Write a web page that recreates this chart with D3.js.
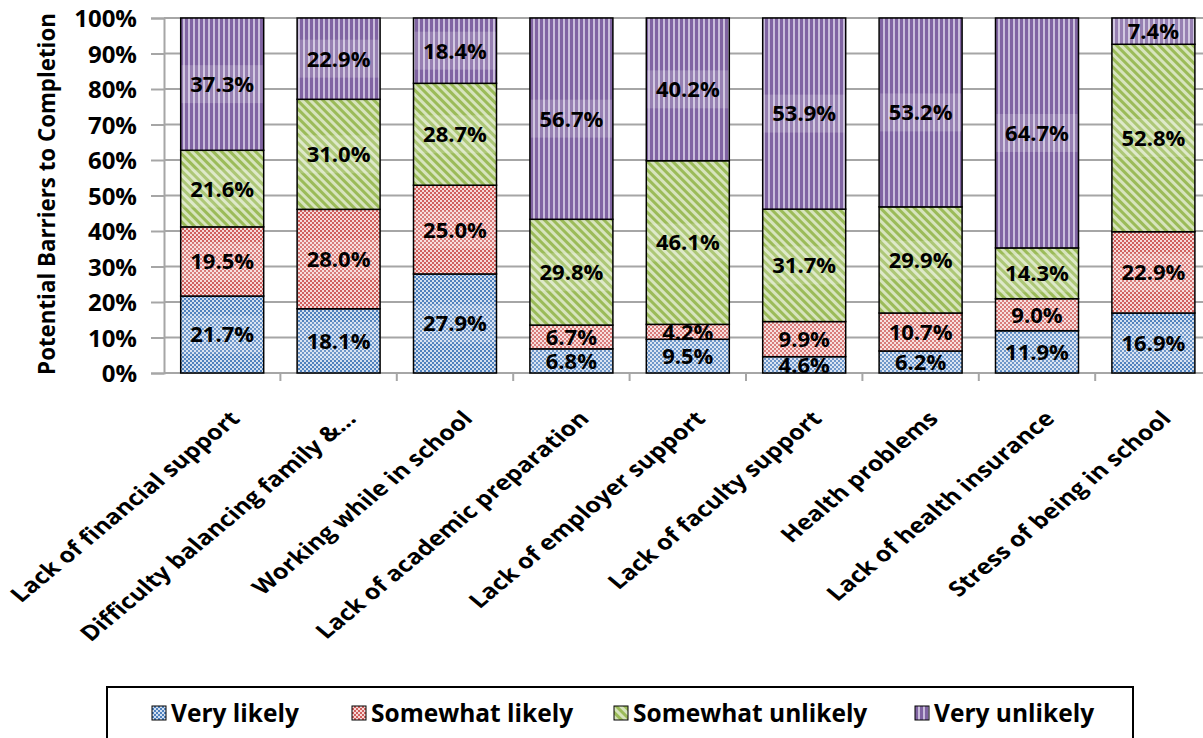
<!DOCTYPE html>
<html>
<head>
<meta charset="utf-8">
<script src="https://cdn.jsdelivr.net/npm/d3@7/dist/d3.min.js"></script>
<style>
  html, body { margin: 0; padding: 0; background: #fff; }
  svg { display: block; font-family: "Open Sans", Lato, sans-serif; font-weight: bold; }
</style>
</head>
<body>
<svg id="chart" width="1203" height="738"></svg>
<script>
const categories = [
  "Lack of financial support",
  "Difficulty balancing family &…",
  "Working while in school",
  "Lack of academic preparation",
  "Lack of employer support",
  "Lack of faculty support",
  "Health problems",
  "Lack of health insurance",
  "Stress of being in school"
];
const seriesNames = ["Very likely", "Somewhat likely", "Somewhat unlikely", "Very unlikely"];
const veryLikely       = [21.7, 18.1, 27.9, 6.8, 9.5, 4.6, 6.2, 11.9, 16.9];
const somewhatLikely   = [19.5, 28.0, 25.0, 6.7, 4.2, 9.9, 10.7, 9.0, 22.9];
const somewhatUnlikely = [21.6, 31.0, 28.7, 29.8, 46.1, 31.7, 29.9, 14.3, 52.8];
const veryUnlikely     = [37.3, 22.9, 18.4, 56.7, 40.2, 53.9, 53.2, 64.7, 7.4];
const yTicks = [0, 0.1, 0.2, 0.3, 0.4, 0.5, 0.6, 0.7, 0.8, 0.9, 1.0];
const yTitle = "Potential Barriers to Completion";

const seriesValues = [veryLikely, somewhatLikely, somewhatUnlikely, veryUnlikely];
const rows = categories.map((c, i) => {
  const r = { category: c };
  seriesNames.forEach((s, j) => r[s] = seriesValues[j][i]);
  return r;
});

const svg = d3.select("#chart");
const defs = svg.append("defs");
const FONT = "'Open Sans', Lato, sans-serif";

// patterns
function checker(id, c1, c2) {
  const p = defs.append("pattern").attr("id", id).attr("patternUnits", "userSpaceOnUse")
    .attr("width", 4).attr("height", 4);
  p.append("rect").attr("width", 4).attr("height", 4).attr("fill", c1);
  p.append("rect").attr("x", 0).attr("y", 0).attr("width", 2).attr("height", 2).attr("fill", c2);
  p.append("rect").attr("x", 2).attr("y", 2).attr("width", 2).attr("height", 2).attr("fill", c2);
}
checker("pat0", "#4F81BD", "#D3DFEF");
checker("pat1", "#D0605D", "#F6D9D8");
(function () {
  const p = defs.append("pattern").attr("id", "pat2").attr("patternUnits", "userSpaceOnUse")
    .attr("width", 6).attr("height", 6).attr("patternTransform", "rotate(-45)");
  p.append("rect").attr("width", 6).attr("height", 6).attr("fill", "#D7E4BD");
  p.append("rect").attr("width", 3).attr("height", 6).attr("fill", "#9BBB59");
})();
(function () {
  const p = defs.append("pattern").attr("id", "pat3").attr("patternUnits", "userSpaceOnUse")
    .attr("width", 5).attr("height", 5);
  p.append("rect").attr("width", 5).attr("height", 5).attr("fill", "#C9BDDB");
  p.append("rect").attr("width", 3).attr("height", 5).attr("fill", "#8064A2");
})();

const x0 = 164, step = 116.4;
const x = d3.scaleBand().domain(categories)
  .range([x0, x0 + step * categories.length])
  .paddingInner(0.287).paddingOuter(0.1435);
const y = d3.scaleLinear().domain([0, 1]).range([373, 18]);

const stack = d3.stack().keys(seriesNames).offset(d3.stackOffsetExpand);
const stacked = stack(rows);

// gridlines
svg.append("g").selectAll("line").data(yTicks.filter(t => t > 0)).join("line")
  .attr("x1", x0).attr("x2", 1203)
  .attr("y1", d => y(d)).attr("y2", d => y(d))
  .attr("stroke", "#A6A6A6").attr("stroke-width", 2);

// y axis
const yAxis = d3.axisLeft(y).tickValues(yTicks).tickFormat(d3.format(".0%")).tickSize(13).tickPadding(14);
const gy = svg.append("g").attr("transform", `translate(${x0},0)`).call(yAxis);
gy.select(".domain").attr("stroke", "#A6A6A6").attr("stroke-width", 2);
gy.selectAll(".tick line").attr("stroke", "#A6A6A6").attr("stroke-width", 2);
gy.selectAll(".tick text").attr("font-size", 24).attr("font-family", FONT)
  .attr("font-weight", "bold").attr("fill", "#000").attr("dy", "0.36em");

// x axis
const xAxisScale = d3.scaleLinear().domain([0, categories.length]).range([x0, x0 + step * categories.length]);
const gx = svg.append("g").attr("transform", "translate(0,373)");
gx.append("line").attr("x1", x0).attr("x2", 1203).attr("stroke", "#A6A6A6").attr("stroke-width", 2);
gx.selectAll("line.tk").data(d3.range(1, categories.length + 1)).join("line").attr("class", "tk")
  .attr("x1", d => xAxisScale(d)).attr("x2", d => xAxisScale(d))
  .attr("y1", 0).attr("y2", 8).attr("stroke", "#A6A6A6").attr("stroke-width", 2);

svg.append("g").selectAll("text").data(categories).join("text")
  .attr("transform", d => `translate(${x(d) + x.bandwidth() / 2 + 19},${420}) scale(1.2,1) rotate(-45)`)
  .attr("text-anchor", "end")
  .attr("font-size", 21)
  .attr("fill", "#000")
  .text(d => d);

// bars
const layers = svg.append("g").selectAll("g").data(stacked).join("g")
  .attr("fill", (d, i) => `url(#pat${i})`);
layers.selectAll("rect").data(d => d).join("rect")
  .attr("x", d => x(d.data.category))
  .attr("width", x.bandwidth())
  .attr("y", d => y(d[1]))
  .attr("height", d => y(d[0]) - y(d[1]))
  .attr("stroke", "#000").attr("stroke-width", 1.5);

// label backgrounds + labels
const labels = [];
stacked.forEach((s, i) => s.forEach((d, j) => {
  labels.push({ cat: d.data.category, v: seriesValues[i][j], y0: d[0], y1: d[1] });
}));
svg.append("g").selectAll("rect").data(labels).join("rect")
  .attr("x", d => x(d.cat) + 1)
  .attr("width", x.bandwidth() - 2)
  .attr("y", d => Math.max(y(d.y1) + 1, y((d.y0 + d.y1) / 2) - 19))
  .attr("height", d => Math.max(0, Math.min(y(d.y0) - 1, y((d.y0 + d.y1) / 2) + 19) - Math.max(y(d.y1) + 1, y((d.y0 + d.y1) / 2) - 19)))
  .attr("fill", "#fff").attr("opacity", 0.18);
svg.append("g").selectAll("text").data(labels).join("text")
  .attr("x", d => x(d.cat) + x.bandwidth() / 2)
  .attr("y", d => y((d.y0 + d.y1) / 2))
  .attr("dy", "0.36em")
  .attr("text-anchor", "middle")
  .attr("font-size", 22)
  .attr("fill", "#000")
  .text(d => d.v.toFixed(1) + "%");

// y title
svg.append("text")
  .attr("transform", "translate(55,194) rotate(-90)")
  .attr("text-anchor", "middle")
  .attr("font-size", 22.3)
  .attr("fill", "#000")
  .text(yTitle);

// legend
svg.append("rect").attr("x", 107).attr("y", 687).attr("width", 1026).attr("height", 60)
  .attr("fill", "#fff").attr("stroke", "#000").attr("stroke-width", 2);
const legendX = [152, 352, 614, 915];
const lg = svg.append("g").selectAll("g").data(seriesNames).join("g")
  .attr("transform", (d, i) => `translate(${legendX[i]},706)`);
lg.append("rect").attr("width", 14).attr("height", 14)
  .attr("fill", (d, i) => `url(#pat${i})`).attr("stroke", "#000").attr("stroke-width", 1);
lg.append("text").attr("x", 19).attr("y", 7).attr("dy", "0.36em")
  .attr("font-size", 24.5).attr("fill", "#000").text(d => d);
</script>
</body>
</html>
